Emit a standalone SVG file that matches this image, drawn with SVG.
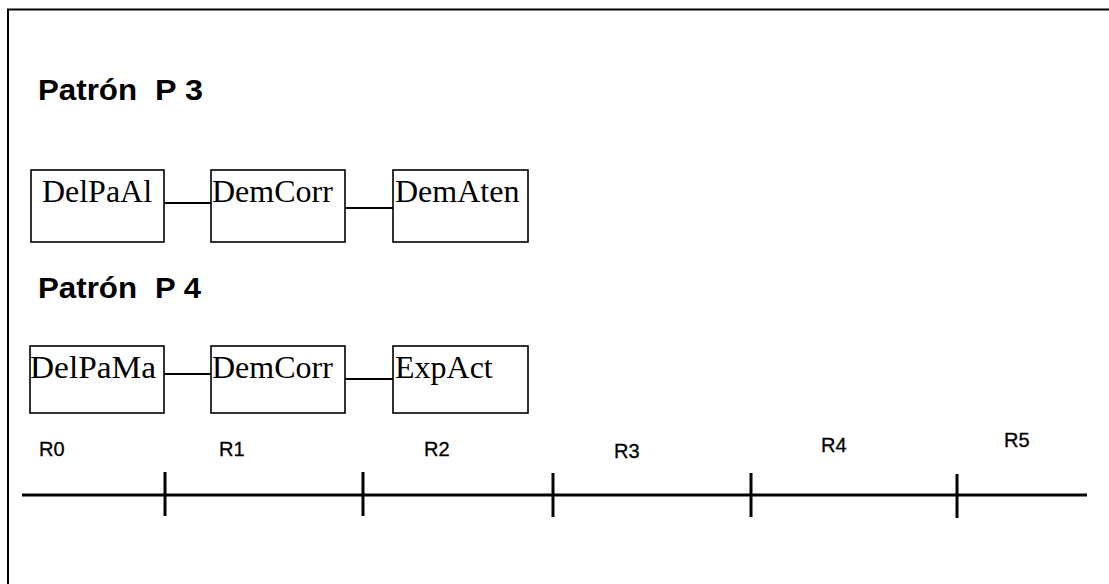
<svg xmlns="http://www.w3.org/2000/svg" width="1109" height="584" viewBox="0 0 1109 584">
<style>
.frame{fill:none;stroke:#000;stroke-width:2}
.box{fill:#fff;stroke:#000;stroke-width:1.6}
.lbl{font-family:"Liberation Serif","Times New Roman",serif;font-size:32px;fill:#000}
.title{font-family:"Liberation Sans",Arial,sans-serif;font-size:30px;font-weight:bold;fill:#000}
.r{font-family:"Liberation Sans",Arial,sans-serif;font-size:20px;fill:#000;stroke:#000;stroke-width:0.3}
.conn{stroke:#000;stroke-width:2;fill:none}
.axis{stroke:#000;stroke-width:3;fill:none}
</style>
<rect width="1109" height="584" fill="#fff"/>
<path class="frame" d="M8,584 V9.5 H1109"/>
<g id="title-p3">
<text class="title" x="38" y="100" textLength="99" lengthAdjust="spacingAndGlyphs">Patrón</text>
<text class="title" x="155" y="100" textLength="48" lengthAdjust="spacingAndGlyphs">P 3</text>
</g>
<g id="title-p4">
<text class="title" x="38" y="298" textLength="99" lengthAdjust="spacingAndGlyphs">Patrón</text>
<text class="title" x="155" y="298" textLength="46" lengthAdjust="spacingAndGlyphs">P 4</text>
</g>
<g id="connectors">
<line class="conn" x1="164" y1="203" x2="211" y2="203"/>
<line class="conn" x1="345" y1="208" x2="393" y2="208"/>
<line class="conn" x1="164" y1="374" x2="211" y2="374"/>
<line class="conn" x1="345" y1="379" x2="393" y2="379"/>
</g>
<g id="p3-delpaal"><rect class="box" x="31" y="170" width="133" height="72"/><text class="lbl" x="42" y="202" textLength="110" lengthAdjust="spacingAndGlyphs">DelPaAl</text></g>
<g id="p3-demcorr"><rect class="box" x="211" y="170" width="134" height="72"/><text class="lbl" x="212" y="202">DemCorr</text></g>
<g id="p3-dematen"><rect class="box" x="393" y="170" width="135" height="72"/><text class="lbl" x="395" y="202">DemAten</text></g>
<g id="p4-delpama"><rect class="box" x="30" y="346" width="134" height="67"/><text class="lbl" x="30" y="378" textLength="126" lengthAdjust="spacingAndGlyphs">DelPaMa</text></g>
<g id="p4-demcorr"><rect class="box" x="211" y="346" width="134" height="67"/><text class="lbl" x="212" y="378">DemCorr</text></g>
<g id="p4-expact"><rect class="box" x="393" y="346" width="135" height="67"/><text class="lbl" x="395" y="378">ExpAct</text></g>
<g id="timeline">
<line class="axis" x1="22" y1="495" x2="1087" y2="495"/>
<line class="axis" x1="165" y1="472" x2="165" y2="516"/>
<line class="axis" x1="363" y1="472" x2="363" y2="516"/>
<line class="axis" x1="553" y1="473" x2="553" y2="517"/>
<line class="axis" x1="751" y1="473" x2="751" y2="517"/>
<line class="axis" x1="957" y1="474" x2="957" y2="518"/>
<text class="r" x="39" y="456">R0</text>
<text class="r" x="219" y="456">R1</text>
<text class="r" x="424" y="456">R2</text>
<text class="r" x="614" y="458">R3</text>
<text class="r" x="821" y="452">R4</text>
<text class="r" x="1004" y="447">R5</text>
</g>
</svg>
